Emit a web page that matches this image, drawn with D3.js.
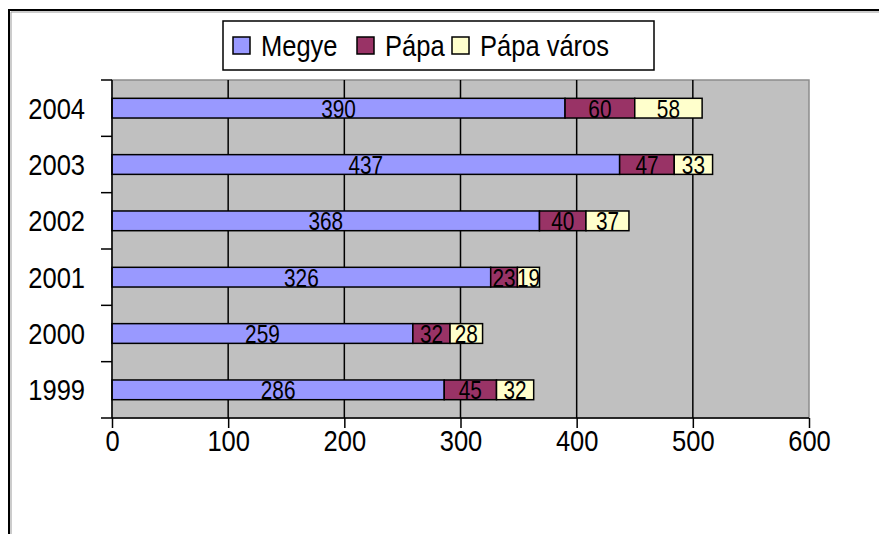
<!DOCTYPE html>
<html>
<meta charset="UTF-8">
<head>
<title>Megye / Pápa</title>
<style>
    body { margin: 0; background: #fff; }
    svg text { font-family: "Liberation Sans", Arial, sans-serif; fill: #000; }
</style>
</head>
<body>
<svg id="chart" width="879" height="534"></svg>
<script src="https://cdnjs.cloudflare.com/ajax/libs/d3/7.8.5/d3.min.js"></script>
<script>
    // data
    let years = ["2004", "2003", "2002", "2001", "2000", "1999"];
    let megye = [390, 437, 368, 326, 259, 286];
    let papa = [60, 47, 40, 23, 32, 45];
    let papaVaros = [58, 33, 37, 19, 28, 32];
    let seriesNames = ["Megye", "Pápa", "Pápa város"];
    let seriesColors = ["#9999FF", "#993366", "#FFFFCC"];
    let xTicks = [0, 100, 200, 300, 400, 500, 600];

    // the original text is tall and narrow
    let sx = 0.88;

    let svg = d3.select("#chart");

    // chart area border (only top and left are on screen)
    svg.append("rect")
        .attr("x", 9).attr("y", 10)
        .attr("width", 900).attr("height", 600)
        .attr("fill", "#fff")
        .attr("stroke", "#000").attr("stroke-width", 2);
    svg.append("path")
        .attr("d", "M11,12H879M11,12V534")
        .attr("stroke", "#999").attr("stroke-width", 1).attr("fill", "none");

    let x = d3.scaleLinear().domain([0, 600]).range([112, 809]);
    let y = d3.scaleBand().domain(years).range([80, 418])
        .paddingInner(0.65).paddingOuter(0.325);

    // plot area
    svg.append("rect")
        .attr("x", x(0)).attr("y", 80)
        .attr("width", x(600) - x(0)).attr("height", 338)
        .attr("fill", "#C0C0C0")
        .attr("stroke", "#8c8c8c").attr("stroke-width", 1.5);

    // vertical grid lines
    svg.append("g")
        .selectAll("line")
        .data(xTicks.slice(1, -1))
        .enter().append("line")
        .attr("x1", d => x(d)).attr("x2", d => x(d))
        .attr("y1", 80).attr("y2", 418)
        .attr("stroke", "#000").attr("stroke-width", 1.5);

    // stacked bars, one series after the other so later segments cover earlier labels
    let rows = years.map((yr, i) => ({ year: yr, values: [megye[i], papa[i], papaVaros[i]] }));
    let segs = [];
    rows.forEach(r => {
        let start = 0;
        r.values.forEach((v, k) => {
            segs.push({ year: r.year, k: k, x0: start, x1: start + v, v: v });
            start += v;
        });
    });

    seriesNames.forEach((name, k) => {
        let g = svg.append("g").attr("class", "series-" + k);
        let s = segs.filter(d => d.k === k);
        g.selectAll("rect")
            .data(s)
            .enter().append("rect")
            .attr("x", d => x(d.x0))
            .attr("y", d => y(d.year))
            .attr("width", d => x(d.x1) - x(d.x0))
            .attr("height", y.bandwidth())
            .attr("fill", seriesColors[k])
            .attr("stroke", "#000").attr("stroke-width", 1.5);
        g.selectAll("text")
            .data(s)
            .enter().append("text")
            .attr("transform", d => "translate(" + (x(d.x0) + x(d.x1)) / 2 + "," + (y(d.year) + y.bandwidth() / 2) + ") scale(0.8,1)")
            .attr("dy", "0.36em")
            .attr("text-anchor", "middle")
            .attr("font-size", 26)
            .text(d => d.v);
    });

    // axes
    let yAxis = d3.axisLeft(y).tickSize(0).tickPadding(27 / sx);
    let gy = svg.append("g").attr("transform", "translate(112,0)").call(yAxis);
    gy.select(".domain").remove();
    gy.selectAll("text").attr("font-size", 29).attr("font-family", null)
        .attr("dy", "0.36em").attr("transform", "scale(" + sx + ",1)");

    // category separators on the left axis
    let bounds = years.map(d => y(d) - y.step() * y.paddingInner() / 2).concat([418]);
    svg.append("g")
        .selectAll("line")
        .data(bounds)
        .enter().append("line")
        .attr("x1", 101).attr("x2", 112)
        .attr("y1", d => d).attr("y2", d => d)
        .attr("stroke", "#000").attr("stroke-width", 1.5);
    svg.append("line")
        .attr("x1", 112).attr("x2", 112).attr("y1", 80).attr("y2", 418)
        .attr("stroke", "#000").attr("stroke-width", 1.5);

    let xAxis = d3.axisBottom(x).tickValues(xTicks).tickSize(10).tickPadding(2);
    let gx = svg.append("g").attr("transform", "translate(0,418)").call(xAxis);
    gx.select(".domain").attr("d", "M112,0H809").attr("stroke-width", 1.5);
    gx.selectAll("line").attr("stroke-width", 1.5);
    gx.selectAll("text").attr("font-size", 29).attr("font-family", null)
        .attr("transform", "scale(" + sx + ",1)");

    // legend
    let legend = svg.append("g");
    legend.append("rect")
        .attr("x", 223).attr("y", 21).attr("width", 431).attr("height", 49)
        .attr("fill", "#fff").attr("stroke", "#000").attr("stroke-width", 1.5);
    let swatchX = [233, 357, 452];
    seriesNames.forEach((name, k) => {
        legend.append("rect")
            .attr("x", swatchX[k]).attr("y", 37).attr("width", 17).attr("height", 17)
            .attr("fill", seriesColors[k]).attr("stroke", "#000").attr("stroke-width", 1.5);
        legend.append("text")
            .attr("transform", "translate(" + (swatchX[k] + 28) + ",46) scale(" + sx + ",1)")
            .attr("dy", "0.36em")
            .attr("font-size", 29)
            .text(name);
    });
</script>
</body>
</html>
